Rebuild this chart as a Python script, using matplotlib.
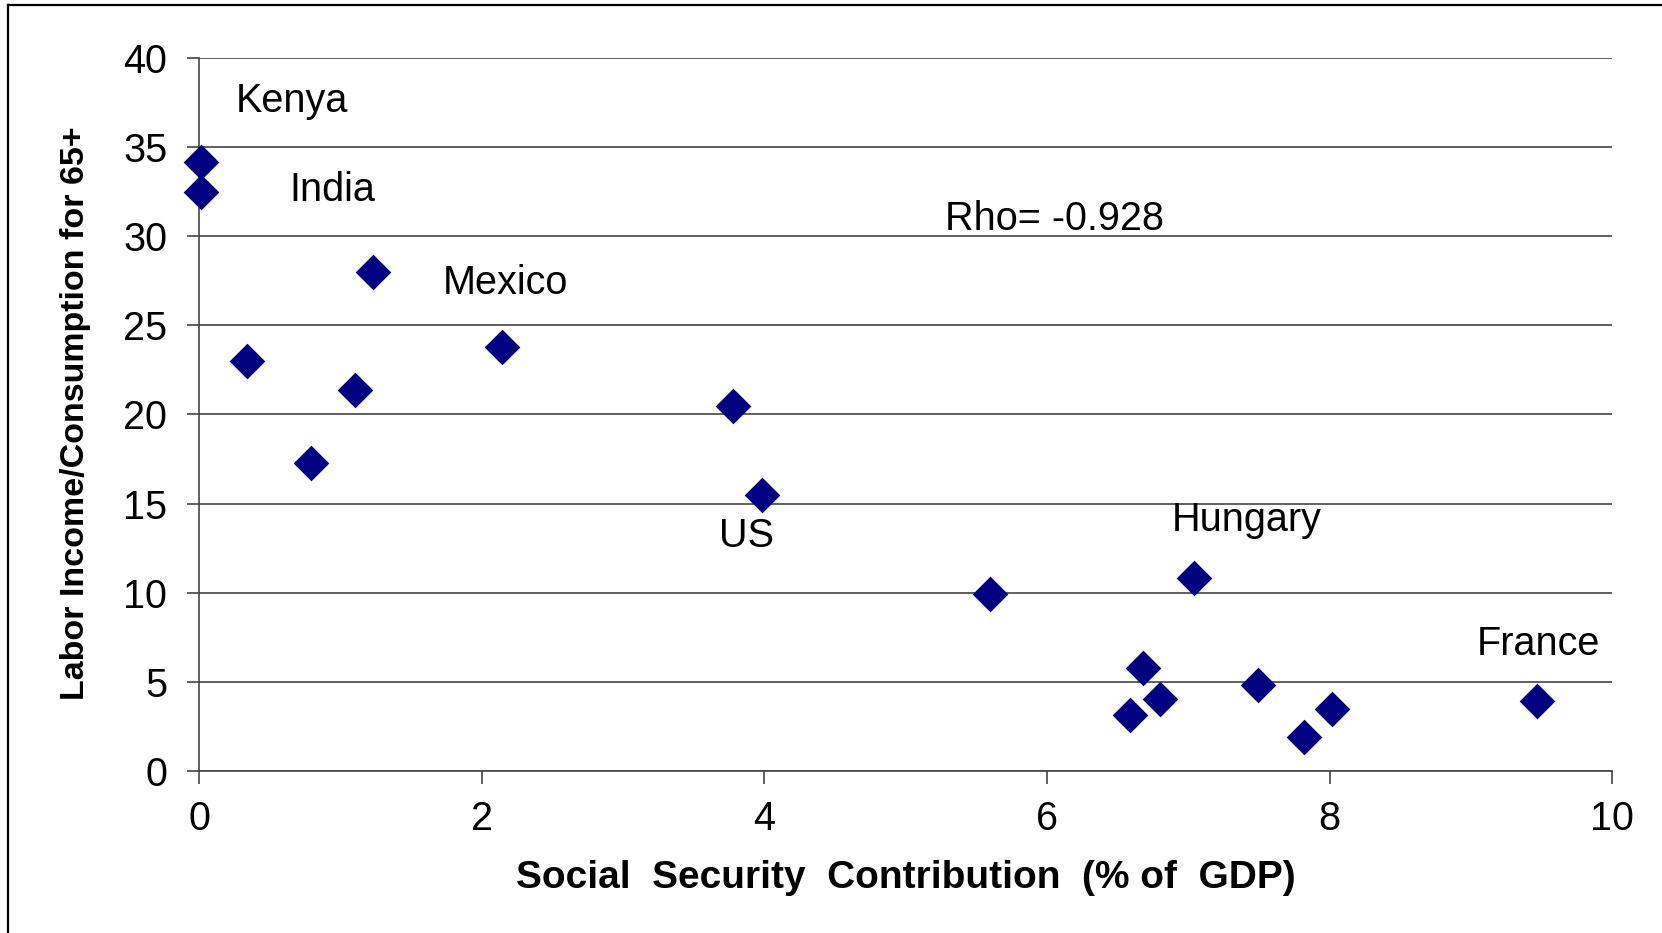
import matplotlib
matplotlib.use("Agg")
import matplotlib.pyplot as plt
from matplotlib.lines import Line2D
from matplotlib import font_manager

# ---- data ----
ss_contrib = [0.015, 0.015, 1.23, 0.34, 1.10, 0.79, 2.14, 3.78, 3.98,
              5.60, 7.04, 6.68, 6.59, 6.80, 7.49, 7.82, 8.02, 9.47]
labor_ratio = [34.2, 32.5, 28.0, 23.0, 21.4, 17.3, 23.8, 20.5, 15.5,
               9.94, 10.8, 5.77, 3.15, 4.05, 4.8, 1.9, 3.45, 3.93]

label_names = ["Kenya", "India", "Mexico", "US", "Hungary", "France"]
label_x = [0.26, 0.64, 1.72, 3.68, 6.88, 9.04]
label_y = [37.6, 32.6, 27.4, 13.2, 14.05, 7.14]

rho_text = "Rho= -0.928"
rho_x, rho_y = 5.28, 31.0

x_ticks = [0, 2, 4, 6, 8, 10]
y_ticks = [0, 5, 10, 15, 20, 25, 30, 35, 40]

names = {f.name for f in font_manager.fontManager.ttflist}
FONT = "Liberation Sans" if "Liberation Sans" in names else "DejaVu Sans"

plt.rcParams["font.family"] = FONT
FS = 28.5

fig = plt.figure(figsize=(16.62, 9.33), dpi=100)
ax = fig.add_axes([0.1199, 0.174, 0.970 - 0.1199, 0.9375 - 0.174])

ax.scatter(ss_contrib, labor_ratio, marker="D", s=330, color="#000080",
           linewidths=0, zorder=3, clip_on=False)

for n, lx, ly in zip(label_names, label_x, label_y):
    ax.text(lx, ly, n, fontsize=FS, ha="left", va="center", color="black")
ax.text(rho_x, rho_y, rho_text, fontsize=FS, ha="left", va="center", color="black")

ax.set_xlim(0, 10)
ax.set_ylim(0, 40)
ax.set_xticks(x_ticks)
ax.set_yticks(y_ticks)
ax.set_xticklabels([str(t) for t in x_ticks], fontsize=FS)
ax.set_yticklabels([str(t) for t in y_ticks], fontsize=FS)
ax.tick_params(axis="both", direction="out", length=9, width=1.2, color="#444444")
ax.tick_params(axis="x", pad=12)
ax.tick_params(axis="y", pad=14)

ax.yaxis.grid(True, color="#444444", linewidth=1.2)
ax.set_axisbelow(True)
for s in ["top", "right"]:
    ax.spines[s].set_visible(False)
for s in ["left", "bottom"]:
    ax.spines[s].set_color("#444444")
    ax.spines[s].set_linewidth(1.2)

ax.set_xlabel("Social  Security  Contribution  (% of  GDP)", fontsize=28,
              fontweight="bold", labelpad=16)
fig.text(0.0455, 0.557, "Labor Income/Consumption for 65+", rotation=90,
         fontsize=24.5, fontweight="bold", ha="center", va="center")

# figure frame (left and top edges only visible)
fig.add_artist(Line2D([0.0048, 0.0048], [0, 0.9946], transform=fig.transFigure,
                      color="black", linewidth=1.6))
fig.add_artist(Line2D([0.0048, 1.0], [0.9946, 0.9946], transform=fig.transFigure,
                      color="black", linewidth=1.6))

fig.savefig("out.png", dpi=100)
